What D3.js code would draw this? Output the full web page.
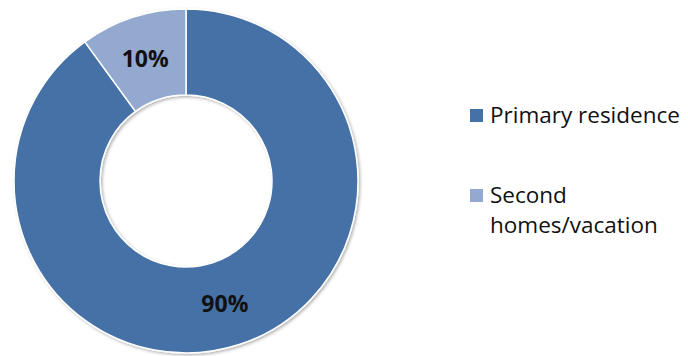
<!DOCTYPE html>
<html>
<head>
<meta charset="utf-8">
<script src="https://cdn.jsdelivr.net/npm/d3@7"></script>
<style>
  html, body { margin: 0; padding: 0; background: #fff; }
  svg { display: block; }
</style>
</head>
<body>
<svg id="chart" width="688" height="356"></svg>
<script>
// Housing use shares
const categories = ["Primary residence", "Second homes/vacation"];
const shares = [90, 10];
const legendLines = [["Primary residence"], ["Second", "homes/vacation"]];
const colors = ["#4471a6", "#93a9d0"];

const W = 688, H = 356;
const cx = 186, cy = 181, outerR = 172, innerR = 86;
const fontFamily = "'Open Sans', 'Noto Sans', sans-serif";

const svg = d3.select("#chart");

const defs = svg.append("defs");
const shadow = defs.append("filter").attr("id", "ringShadow")
  .attr("x", "-10%").attr("y", "-10%").attr("width", "120%").attr("height", "120%");
shadow.append("feDropShadow")
  .attr("dx", 1.5).attr("dy", 1.5).attr("stdDeviation", 1.5)
  .attr("flood-color", "#000").attr("flood-opacity", 0.3);

const data = categories.map((c, i) => ({ name: c, value: shares[i] }));
const pie = d3.pie().sort(null).value(d => d.value);
const arc = d3.arc().innerRadius(innerR).outerRadius(outerR);
const arcs = pie(data);

const color = d3.scaleOrdinal().domain(categories).range(colors);

const g = svg.append("g").attr("transform", `translate(${cx},${cy})`);

g.append("g").attr("filter", "url(#ringShadow)")
  .selectAll("path")
  .data(arcs)
  .join("path")
  .attr("d", arc)
  .attr("fill", d => color(d.data.name))
  .attr("stroke", "#fff")
  .attr("stroke-width", 1.5);

// Percentage labels at each slice's centroid
g.selectAll("text.pct")
  .data(arcs)
  .join("text")
  .attr("class", "pct")
  .attr("x", d => arc.centroid(d)[0] - 1)
  .attr("y", d => arc.centroid(d)[1])
  .attr("dy", "0.37em")
  .attr("text-anchor", "middle")
  .attr("font-family", fontFamily)
  .attr("font-weight", "bold")
  .attr("font-size", 23)
  .attr("fill", "#111")
  .text(d => d.data.value + "%");

// Legend
const legendX = 470;
const legendY = [109, 189];
const legend = svg.append("g");
categories.forEach((c, i) => {
  const row = legend.append("g").attr("transform", `translate(${legendX},${legendY[i]})`);
  row.append("rect").attr("width", 13).attr("height", 13).attr("fill", color(c));
  row.append("text")
    .attr("x", 20)
    .attr("font-family", fontFamily)
    .attr("font-size", 22.5)
    .attr("fill", "#111")
    .selectAll("tspan")
    .data(legendLines[i])
    .join("tspan")
    .attr("x", 20)
    .attr("y", (d, j) => 14 + j * 30)
    .text(d => d);
});
</script>
</body>
</html>
